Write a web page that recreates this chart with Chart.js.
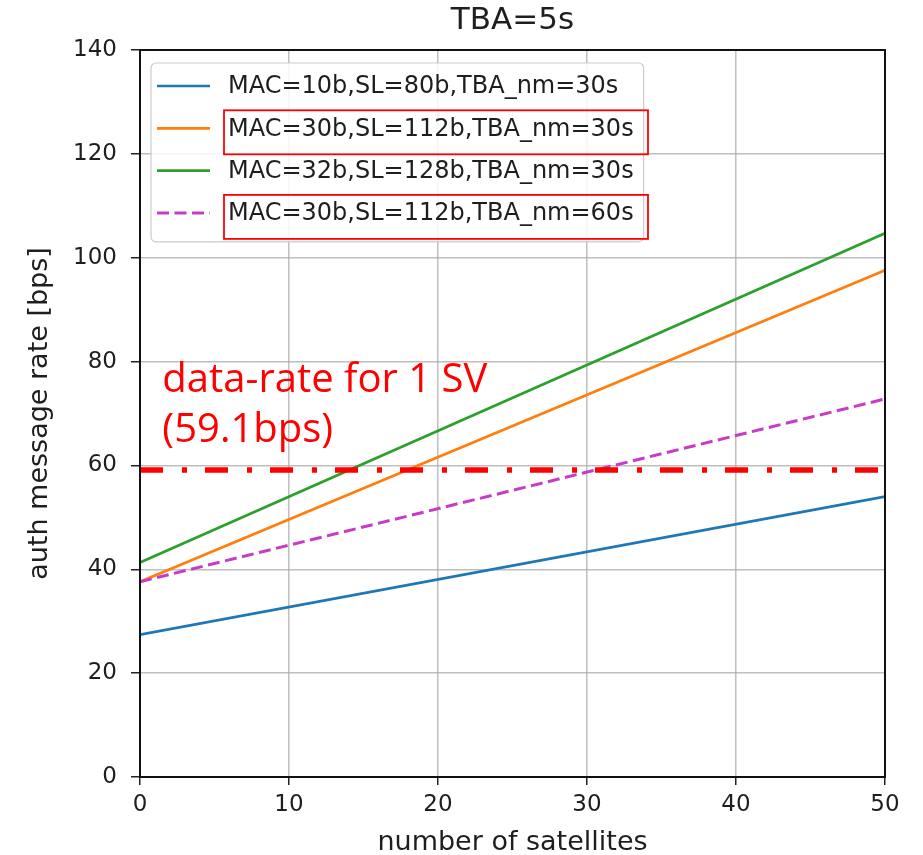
<!DOCTYPE html>
<html lang="en">
<head>
<meta charset="UTF-8">
<title>TBA=5s</title>
<script src="https://cdn.jsdelivr.net/npm/chart.js"></script>
<style>
  body { margin: 0; background: #fff; }
  #wrap { width: 923px; height: 855px; }
</style>
</head>
<body>
<div id="wrap"><canvas id="chart"></canvas></div>
<script>
// values
const satellites = [0, 50];
const rateMac10 = [27.4, 54.0];
const rateMac30 = [37.6, 97.6];
const rateMac32 = [41.3, 104.7];
const rateMac30nm60 = [37.6, 72.8];
const svDataRate = 59.1;
const seriesLabels = [
  'MAC=10b,SL=80b,TBA_nm=30s',
  'MAC=30b,SL=112b,TBA_nm=30s',
  'MAC=32b,SL=128b,TBA_nm=30s',
  'MAC=30b,SL=112b,TBA_nm=60s'
];
const noteLines = ['data-rate for 1 SV', '(59.1bps)'];

const pts = ys => satellites.map((x, i) => ({ x: x, y: ys[i] }));
const FONT = '"DejaVu Sans", sans-serif';

// matplotlib-style legend box inside the axes
const boxLegend = {
  id: 'boxLegend',
  afterDraw(chart) {
    const { ctx, chartArea: a } = chart;
    const sets = chart.data.datasets.filter(d => !d.noLegend);
    ctx.save();
    ctx.font = '24px ' + FONT;
    const x0 = a.left + 11, y0 = a.top + 13, row = 42.3;
    const textX = x0 + 77;
    const w = Math.max(...sets.map(d => ctx.measureText(d.label).width));
    const bw = textX - x0 + w + 10, bh = 23 + row * (sets.length - 1) + 29;
    ctx.fillStyle = 'rgba(255,255,255,0.85)';
    ctx.strokeStyle = '#cccccc';
    ctx.lineWidth = 1.2;
    ctx.beginPath();
    ctx.roundRect(x0, y0, bw, bh, 5);
    ctx.fill();
    ctx.stroke();
    sets.forEach((d, i) => {
      const y = y0 + 23 + i * row;
      ctx.strokeStyle = d.borderColor;
      ctx.lineWidth = d.borderWidth;
      ctx.setLineDash(d.borderDash || []);
      ctx.beginPath();
      ctx.moveTo(x0 + 6, y);
      ctx.lineTo(x0 + 59, y);
      ctx.stroke();
      ctx.setLineDash([]);
      ctx.fillStyle = '#1e1e1e';
      ctx.textBaseline = 'middle';
      ctx.fillText(d.label, textX, y + 1);
      if (d.highlight) {
        ctx.strokeStyle = '#ff0000';
        ctx.lineWidth = 1.8;
        ctx.strokeRect(textX - 4, y - 18, a.left + 508 - (textX - 4), 44);
      }
    });
    ctx.restore();
  }
};

// red note + axes frame
const extras = {
  id: 'extras',
  afterDatasetsDraw(chart) {
    const { ctx, chartArea: a, scales } = chart;
    ctx.save();
    ctx.strokeStyle = '#111';
    ctx.lineWidth = 2;
    ctx.strokeRect(a.left, a.top, a.right - a.left, a.bottom - a.top);
    ctx.fillStyle = '#ff0000';
    ctx.font = '40px "Open Sans", "Noto Sans", sans-serif';
    ctx.textBaseline = 'alphabetic';
    const nx = scales.x.getPixelForValue(1.5);
    const ny = scales.y.getPixelForValue(74.1);
    noteLines.forEach((t, i) => ctx.fillText(t, nx, ny + i * 50));
    ctx.restore();
  }
};

new Chart(document.getElementById('chart'), {
  type: 'line',
  data: {
    datasets: [
      { label: seriesLabels[0], data: pts(rateMac10), borderColor: '#1f77b4', borderWidth: 2.7, order: 4 },
      { label: seriesLabels[1], data: pts(rateMac30), borderColor: '#ff7f0e', borderWidth: 2.7, order: 3, highlight: true },
      { label: seriesLabels[2], data: pts(rateMac32), borderColor: '#2ca02c', borderWidth: 2.7, order: 2 },
      { label: seriesLabels[3], data: pts(rateMac30nm60), borderColor: '#c63cc6', borderWidth: 3, borderDash: [12, 5.5], order: 1, highlight: true },
      { label: 'data-rate for 1 SV', data: satellites.map(x => ({ x: x, y: svDataRate })), borderColor: '#ff0000', borderWidth: 5.5, borderDash: [23, 19, 5, 18], order: 0, noLegend: true, clip: 6 }
    ]
  },
  options: {
    responsive: true,
    maintainAspectRatio: false,
    animation: false,
    events: [],
    elements: { point: { radius: 0 }, line: { tension: 0, borderCapStyle: 'butt' } },
    layout: { padding: { left: 0, right: 38, top: 0, bottom: 0 } },
    plugins: {
      legend: { display: false },
      tooltip: { enabled: false },
      title: {
        display: true,
        text: 'TBA=5s',
        fullSize: false,
        color: '#1e1e1e',
        font: { family: FONT, size: 31, weight: 'normal' },
        padding: { top: 2, bottom: 10.8 }
      }
    },
    scales: {
      x: {
        type: 'linear',
        min: 0,
        max: 50,
        afterFit: s => { s.height = 78; },
        ticks: { stepSize: 10, color: '#1e1e1e', padding: 6, font: { family: FONT, size: 23 } },
        grid: { color: 'rgba(170,170,170,0.75)', lineWidth: 1.5, tickLength: 8, tickColor: '#222', tickWidth: 1.5 },
        border: { display: true, color: '#111', width: 2 },
        title: { display: true, text: 'number of satellites', color: '#1e1e1e', font: { family: FONT, size: 27 }, padding: { top: 0, bottom: -4 } }
      },
      y: {
        min: 0,
        max: 140,
        afterFit: s => { s.width = 140; },
        ticks: { stepSize: 20, color: '#1e1e1e', padding: 14, font: { family: FONT, size: 23 } },
        grid: { color: 'rgba(170,170,170,0.75)', lineWidth: 1.5, tickLength: 9, tickColor: '#222', tickWidth: 1.5 },
        border: { display: true, color: '#111', width: 2 },
        title: { display: true, text: 'auth message rate [bps]', color: '#1e1e1e', font: { family: FONT, size: 27 }, padding: { top: 24, bottom: 0 } }
      }
    }
  },
  plugins: [extras, boxLegend]
});
</script>
</body>
</html>
